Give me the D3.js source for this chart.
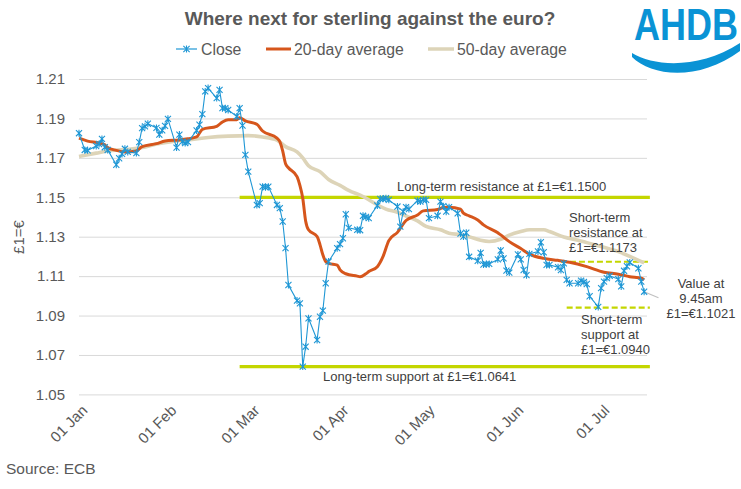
<!DOCTYPE html>
<html>
<head>
<meta charset="utf-8">
<script src="https://cdn.jsdelivr.net/npm/d3@7"></script>
<style>
  html, body { margin: 0; padding: 0; background: #fff; }
  svg { display: block; font-family: "Liberation Sans", Arial, sans-serif; }
</style>
</head>
<body>
<svg id="chart" width="741" height="489"></svg>
<script>
// ---- data ----
const yTicks = [1.05, 1.07, 1.09, 1.11, 1.13, 1.15, 1.17, 1.19, 1.21]
const monthTicks = ['2020-01-01', '2020-02-01', '2020-03-01', '2020-04-01', '2020-05-01', '2020-06-01', '2020-07-01']

// daily close, one value per weekday from closeStart to closeEnd (closeSkipped left out)
const closeStart = '2019-12-31'
const closeEnd = '2020-07-15'
const closeSkipped = ['2020-01-01']
const closeDec = [1.1825]
const closeJan = [1.1740, 1.1738, 1.1760, 1.1770, 1.1796, 1.1754, 1.1740, 1.1665, 1.1698, 1.1720, 1.1746,
  1.1730, 1.1724, 1.1780, 1.1851, 1.1860, 1.1873, 1.1852, 1.1818, 1.1840, 1.1862, 1.1898]
const closeFeb = [1.1752, 1.1818, 1.1782, 1.1775, 1.1780, 1.1839, 1.1868, 1.1922, 1.2037, 1.2054,
  1.2003, 1.2045, 1.1952, 1.1952, 1.1943, 1.1910, 1.1952, 1.1864, 1.1715, 1.1630]
const closeMar = [1.1461, 1.1470, 1.1554, 1.1551, 1.1554, 1.1461, 1.1445, 1.1377, 1.1242, 1.1055, 1.0976,
  1.0962, 1.0641, 1.0742, 1.0886, 1.0776, 1.0894, 1.0925, 1.1064, 1.1174, 1.1242, 1.1262]
const closeApr = [1.1292, 1.1414, 1.1345, 1.1335, 1.1333, 1.1406, 1.1400, 1.1394, 1.1458, 1.1492, 1.1492,
  1.1495, 1.1487, 1.1453, 1.1351, 1.1427, 1.1450, 1.1440, 1.1483, 1.1478, 1.1487, 1.1487]
const closeMay = [1.1394, 1.1406, 1.1478, 1.1455, 1.1427, 1.1450, 1.1419, 1.1316, 1.1301, 1.1320, 1.1198,
  1.1178, 1.1218, 1.1159, 1.1161, 1.1162, 1.1185, 1.1230, 1.1190, 1.1128, 1.1118]
const closeJun = [1.1210, 1.1185, 1.1131, 1.1105, 1.1213, 1.1225, 1.1272, 1.1221, 1.1157, 1.1157, 1.1145,
  1.1131, 1.1165, 1.1081, 1.1064, 1.1064, 1.1077, 1.1070, 1.1060, 1.0998, 1.0944, 1.1039]
const closeJul = [1.1072, 1.1090, 1.1101, 1.1085, 1.1048, 1.1127, 1.1150, 1.1169, 1.1140, 1.1072, 1.1021]

// 20-day moving average
const ma20Dates = ['2019-12-31', '2020-01-03', '2020-01-07', '2020-01-09', '2020-01-10', '2020-01-13', '2020-01-16',
  '2020-01-20', '2020-01-22', '2020-01-27', '2020-01-30', '2020-02-04', '2020-02-07', '2020-02-10', '2020-02-12',
  '2020-02-17', '2020-02-19', '2020-02-21', '2020-02-24', '2020-02-25', '2020-02-27', '2020-03-02', '2020-03-04',
  '2020-03-09', '2020-03-10', '2020-03-11', '2020-03-12', '2020-03-13', '2020-03-16', '2020-03-17', '2020-03-18',
  '2020-03-19', '2020-03-20', '2020-03-23', '2020-03-24', '2020-03-25', '2020-03-26', '2020-03-27', '2020-03-30',
  '2020-03-31', '2020-04-02', '2020-04-06', '2020-04-07', '2020-04-09', '2020-04-10', '2020-04-13', '2020-04-15',
  '2020-04-17', '2020-04-20', '2020-04-23', '2020-04-27', '2020-04-29', '2020-05-04', '2020-05-06', '2020-05-08',
  '2020-05-12', '2020-05-13', '2020-05-15', '2020-05-18', '2020-05-20', '2020-05-25', '2020-05-26', '2020-05-29',
  '2020-06-02', '2020-06-05', '2020-06-10', '2020-06-15', '2020-06-19', '2020-06-25', '2020-07-01', '2020-07-06',
  '2020-07-10', '2020-07-14', '2020-07-15']
const ma20Values = [1.1800, 1.1785, 1.1775, 1.1766, 1.1752, 1.1738, 1.1730,
  1.1735, 1.1757, 1.1772, 1.1785, 1.1791, 1.1797, 1.1806, 1.1845,
  1.1860, 1.1882, 1.1893, 1.1893, 1.1903, 1.1888, 1.1870, 1.1836,
  1.1800, 1.1783, 1.1735, 1.1670, 1.1650, 1.1605, 1.1560, 1.1495,
  1.1380, 1.1335, 1.1301, 1.1260, 1.1208, 1.1174, 1.1165, 1.1156,
  1.1132, 1.1112, 1.1100, 1.1097, 1.1112, 1.1123, 1.1148, 1.1200,
  1.1280, 1.1322, 1.1382, 1.1410, 1.1431, 1.1438, 1.1448, 1.1450,
  1.1440, 1.1419, 1.1406, 1.1385, 1.1360, 1.1320, 1.1309, 1.1275,
  1.1240, 1.1212, 1.1190, 1.1180, 1.1170, 1.1148, 1.1120, 1.1110,
  1.1097, 1.1089, 1.1081]

// 50-day moving average
const ma50Dates = ['2019-12-31', '2020-01-06', '2020-01-10', '2020-01-16', '2020-01-22', '2020-01-27', '2020-02-03',
  '2020-02-07', '2020-02-14', '2020-02-21', '2020-02-28', '2020-03-04', '2020-03-09', '2020-03-12', '2020-03-16',
  '2020-03-18', '2020-03-20', '2020-03-24', '2020-03-27', '2020-03-31', '2020-04-03', '2020-04-08', '2020-04-13',
  '2020-04-16', '2020-04-20', '2020-04-23', '2020-04-27', '2020-04-30', '2020-05-05', '2020-05-08', '2020-05-12',
  '2020-05-15', '2020-05-19', '2020-05-22', '2020-05-26', '2020-05-29', '2020-06-02', '2020-06-05', '2020-06-10',
  '2020-06-12', '2020-06-17', '2020-06-22', '2020-06-25', '2020-06-30', '2020-07-06', '2020-07-10', '2020-07-15']
const ma50Values = [1.1707, 1.1724, 1.1735, 1.1742, 1.1752, 1.1770, 1.1786,
  1.1791, 1.1803, 1.1810, 1.1813, 1.1806, 1.1790, 1.1757, 1.1730,
  1.1700, 1.1660, 1.1630, 1.1590, 1.1560, 1.1535, 1.1504, 1.1462,
  1.1440, 1.1424, 1.1405, 1.1380, 1.1352, 1.1335, 1.1318, 1.1310,
  1.1300, 1.1282, 1.1276, 1.1287, 1.1308, 1.1326, 1.1335, 1.1335,
  1.1326, 1.1298, 1.1282, 1.1270, 1.1250, 1.1224, 1.1200, 1.1167]

// thin grey tail after the 9.45am value
const tailDates = ['2020-07-15', '2020-07-20']
const tailValues = [1.1021, 1.0990]

// support / resistance levels
const levelNames = ['Long-term resistance', 'Long-term support', 'Short-term resistance', 'Short-term support']
const levelValues = [1.1500, 1.0641, 1.1173, 1.0940]
const levelFrom = ['2020-02-25', '2020-02-25', '2020-06-16', '2020-06-18']
const levelTo = ['2020-07-17', '2020-07-17', '2020-07-17', '2020-07-17']
const levelDashed = [false, false, true, true]

const seriesNames = ['Close', '20-day average', '50-day average']
const seriesColors = ['#1f97d5', '#d6561c', '#ddd4b8']
const limeColor = '#c4d600'
const textGrey = '#595959'

// ---- setup ----
const parse = d3.utcParse('%Y-%m-%d')
const fmt = d3.utcFormat('%Y-%m-%d')

const closeDates = d3.utcDays(parse(closeStart), d3.utcDay.offset(parse(closeEnd), 1))
  .filter(d => d.getUTCDay() % 6 !== 0 && !closeSkipped.includes(fmt(d)))
const closeValues = [].concat(closeDec, closeJan, closeFeb, closeMar, closeApr, closeMay, closeJun, closeJul)
const closeData = closeDates.map((d, i) => ({ date: d, value: closeValues[i] }))
const ma20 = ma20Dates.map((d, i) => ({ date: parse(d), value: ma20Values[i] }))
const ma50 = ma50Dates.map((d, i) => ({ date: parse(d), value: ma50Values[i] }))
const tail = tailDates.map((d, i) => ({ date: parse(d), value: tailValues[i] }))

const svg = d3.select('#chart')
const plotLeft = 79, plotRight = 647, plotTop = 79, plotBottom = 394.4

const x = d3.scaleUtc().domain([parse('2019-12-31'), parse('2020-07-16')]).range([plotLeft, plotRight])
const y = d3.scaleLinear().domain([1.05, 1.21]).range([plotBottom, plotTop])

// title
svg.append('text')
  .attr('x', 370).attr('y', 25)
  .attr('text-anchor', 'middle')
  .attr('font-size', 19).attr('font-weight', 'bold')
  .attr('fill', textGrey)
  .text('Where next for sterling against the euro?')

// logo
const logo = svg.append('g').attr('class', 'logo')
logo.append('text')
  .attr('transform', 'translate(634,40) scale(1,1.25)')
  .attr('font-size', 36).attr('font-weight', 'bold')
  .attr('fill', '#0a93d5')
  .text('AHDB')
logo.append('path')
  .attr('d', 'M632,53 C655,67 700,69 740,43 L740,51 C700,81 652,77 632,57 Z')
  .attr('fill', '#0a93d5')

// legend
const legend = svg.append('g').attr('class', 'legend').attr('font-size', 15.8).attr('fill', textGrey)
const legendX = [[176, 197, 201], [266, 291, 294], [428, 454, 457]]
seriesNames.forEach((name, i) => {
  legend.append('line')
    .attr('x1', legendX[i][0]).attr('x2', legendX[i][1])
    .attr('y1', 49).attr('y2', 49)
    .attr('stroke', seriesColors[i])
    .attr('stroke-width', i === 0 ? 1.2 : (i === 1 ? 3 : 3.5))
  legend.append('text')
    .attr('x', legendX[i][2]).attr('y', 54.5)
    .text(name)
})

function star(g, cx, cy, r, color) {
  g.append('path')
    .attr('d', 'M' + cx + ',' + (cy - r) + 'V' + (cy + r) +
      'M' + (cx - r * 0.87) + ',' + (cy - r * 0.87) + 'L' + (cx + r * 0.87) + ',' + (cy + r * 0.87) +
      'M' + (cx - r * 0.87) + ',' + (cy + r * 0.87) + 'L' + (cx + r * 0.87) + ',' + (cy - r * 0.87))
    .attr('stroke', color)
    .attr('stroke-width', 1.1)
    .attr('fill', 'none')
}
star(legend, 186.5, 49, 3.6, seriesColors[0])

// y axis + gridlines
const yAxis = svg.append('g')
  .attr('transform', 'translate(' + plotLeft + ',0)')
  .call(d3.axisLeft(y).tickValues(yTicks).tickFormat(d3.format('.2f'))
    .tickSize(-(plotRight - plotLeft)).tickPadding(14))
yAxis.select('.domain').remove()
yAxis.selectAll('line').attr('stroke', '#d9d9d9').attr('stroke-width', 1)
yAxis.selectAll('text')
  .attr('font-size', 15).attr('fill', textGrey)
  .attr('font-family', '"Liberation Sans", Arial, sans-serif')

svg.append('text')
  .attr('transform', 'translate(24,237) rotate(-90)')
  .attr('text-anchor', 'middle')
  .attr('font-size', 15).attr('fill', textGrey)
  .text('£1=€')

// x axis labels
const xAxis = svg.append('g')
  .attr('transform', 'translate(0,' + plotBottom + ')')
  .call(d3.axisBottom(x).tickValues(monthTicks.map(parse))
    .tickFormat(d3.utcFormat('%d %b')).tickSize(0))
xAxis.select('.domain').remove()
xAxis.selectAll('text')
  .attr('x', 0).attr('y', 0).attr('dy', 0)
  .attr('transform', 'translate(6,17) rotate(-45)')
  .style('text-anchor', 'end')
  .attr('font-size', 15).attr('fill', textGrey)
  .attr('font-family', '"Liberation Sans", Arial, sans-serif')

// levels
const levels = svg.append('g').attr('class', 'levels')
levelValues.forEach((v, i) => {
  levels.append('line')
    .attr('x1', x(parse(levelFrom[i]))).attr('x2', x(parse(levelTo[i])))
    .attr('y1', y(v)).attr('y2', y(v))
    .attr('stroke', limeColor)
    .attr('stroke-width', levelDashed[i] ? 2.2 : 3.2)
    .attr('stroke-dasharray', levelDashed[i] ? '6,3' : null)
})

const line = d3.line().x(d => x(d.date)).y(d => y(d.value))
const smooth = d3.line().x(d => x(d.date)).y(d => y(d.value)).curve(d3.curveMonotoneX)

svg.append('path').datum(ma50)
  .attr('d', smooth).attr('fill', 'none')
  .attr('stroke', seriesColors[2]).attr('stroke-width', 3.6).attr('stroke-linejoin', 'round')

svg.append('path').datum(ma20)
  .attr('d', smooth).attr('fill', 'none')
  .attr('stroke', seriesColors[1]).attr('stroke-width', 3).attr('stroke-linejoin', 'round')

svg.append('path').datum(tail)
  .attr('d', line).attr('fill', 'none')
  .attr('stroke', '#c0c0c0').attr('stroke-width', 1.2)

svg.append('path').datum(closeData)
  .attr('d', line).attr('fill', 'none')
  .attr('stroke', seriesColors[0]).attr('stroke-width', 1.1)

const markers = svg.append('g').attr('class', 'markers')
closeData.forEach(d => star(markers, x(d.date), y(d.value), 3.5, seriesColors[0]))

// annotations
const notes = svg.append('g').attr('font-size', 13).attr('fill', '#404040')
notes.append('text').attr('x', 397).attr('y', 191).text('Long-term resistance at £1=€1.1500')
notes.append('text').attr('x', 323).attr('y', 381).text('Long-term support at £1=€1.0641')

function block(lines, xPos, yPos, anchor) {
  const t = notes.append('text').attr('text-anchor', anchor)
  lines.forEach((s, i) => {
    t.append('tspan').attr('x', xPos).attr('y', yPos + i * 15).text(s)
  })
}
block(['Short-term', 'resistance at', '£1=€1.1173'], 569, 221.5, 'start')
block(['Short-term', 'support at', '£1=€1.0940'], 581, 324, 'start')
block(['Value at', '9.45am', '£1=€1.1021'], 701, 287.5, 'middle')

// source
svg.append('text')
  .attr('x', 6).attr('y', 474)
  .attr('font-size', 15.5).attr('fill', textGrey)
  .text('Source: ECB')
</script>
</body>
</html>
